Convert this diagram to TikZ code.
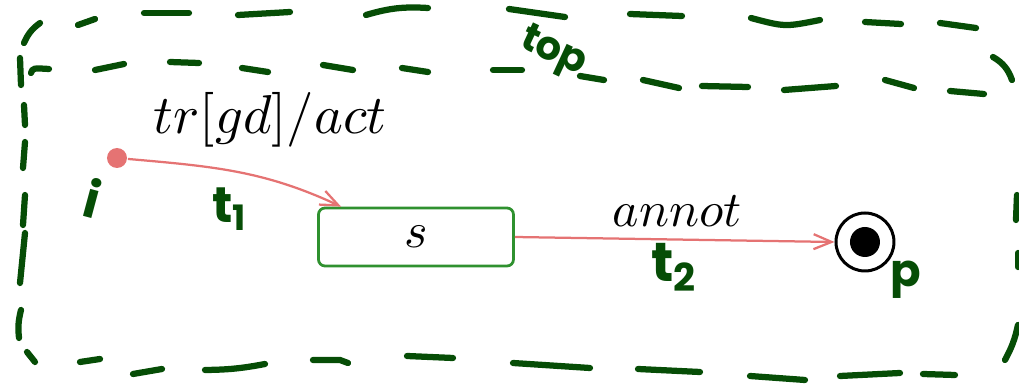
\documentclass[tikz,border=0pt]{standalone}
\usepackage{fontspec}
\usetikzlibrary{arrows.meta}
\newfontfamily\handfont{Poppins}
\definecolor{hgreen}{HTML}{064D06}
\definecolor{trred}{HTML}{E57373}
\definecolor{boxgreen}{HTML}{2F912F}
\tikzset{
  hd/.style={draw=hgreen, line width=1.25pt, line cap=round},
  hlabel/.style={text=hgreen, font=\handfont\bfseries\fontsize{10}{10}\selectfont, inner sep=0pt},
  trans/.style={draw=trred, line width=0.45pt, -{Straight Barb[length=3.6pt,width=3pt]}},
  lbl/.style={font=\fontsize{10.3}{12}\selectfont, inner sep=0pt},
  statebox/.style={draw=boxgreen, line width=0.55pt, rounded corners=1.3pt, minimum width=39pt, minimum height=11.6pt, inner sep=0pt, font=\fontsize{10.3}{12}\selectfont},
}
\begin{document}
\begin{tikzpicture}[x=0.2pt,y=-0.2pt]
\useasboundingbox (0,0) rectangle (1019,386);
% handwritten dashed region: top row
\draw[hd] (24,43) to[bend left=15] (40,23);
\draw[hd] (78,25) -- (95,19);
\draw[hd] (144,13) -- (189,13);
\draw[hd] (238,15) -- (290,12);
\draw[hd] (366,15) to[bend left=10] (428,8);
\draw[hd] (509,9) -- (565,17);
\draw[hd] (630,14) -- (682,16);
\draw[hd] (751,18) .. controls (785,27) .. (820,20);
\draw[hd] (865,22) -- (901,24);
\draw[hd] (940,23) -- (976,28);
\draw[hd] (993,57) to[bend left=20] (1012,80);
% second row
\draw[hd] (21,85) -- (20,58);
\draw[hd] (31,73) .. controls (33,68) .. (49,69);
\draw[hd] (95,70) -- (124,64);
\draw[hd] (170,62) -- (199,63);
\draw[hd] (242,68) -- (268,72);
\draw[hd] (323,65) -- (353,70);
\draw[hd] (402,68) -- (428,72);
\draw[hd] (493,70) -- (522,70);
\draw[hd] (580,76) -- (604,80);
\draw[hd] (643,80) -- (679,88);
\draw[hd] (702,86) -- (748,87);
\draw[hd] (784,90) -- (836,86);
\draw[hd] (885,80) -- (914,88);
\draw[hd] (950,91) -- (984,94);
% left side
\draw[hd] (24,105) -- (25,125);
\draw[hd] (25,142) -- (23,168);
\draw[hd] (25,195) -- (23,225);
\draw[hd] (25,233) -- (20,283);
\draw[hd] (21,310) to[bend right=10] (19,338);
\draw[hd] (27,352) -- (35,362);
% bottom
\draw[hd] (80,362) -- (100,359);
\draw[hd] (133,374) -- (162,369);
\draw[hd] (205,370) to[bend right=5] (265,364);
\draw[hd] (313,360) -- (340,360) -- (348,363);
\draw[hd] (407,356) -- (453,358);
\draw[hd] (513,363) -- (590,368);
\draw[hd] (638,369) -- (700,372);
\draw[hd] (750,376) -- (805,380);
\draw[hd] (840,376) -- (900,373);
\draw[hd] (923,374) -- (955,375);
% right side
\draw[hd] (1005,360) to[bend right=8] (1018,325);
\draw[hd] (1016,220) -- (1017,195);
\draw[hd] (1018,253) -- (1018,267);
% handwritten labels
\node[hlabel, rotate=-25, font=\handfont\bfseries\fontsize{8}{8}\selectfont] (top) at (553,53) {top};
\node[hlabel, rotate=-15] (ilab) at (93,198) {i};
\node[hlabel] (t1) at (230,209) {t\textsubscript{1}};
\node[hlabel, font=\handfont\bfseries\fontsize{11}{11}\selectfont] (t2) at (675,267) {t\textsubscript{2}};
\node[hlabel, font=\handfont\bfseries\fontsize{9}{9}\selectfont] (plab) at (906,280) {p};
% state machine
\node[circle, fill=trred, inner sep=0pt, minimum size=4pt] (init) at (117,158) {};
\node[statebox] (s) at (416,237) {$s$};
\node[circle, draw=black, line width=0.6pt, minimum size=11.6pt, inner sep=0pt] (final) at (865,242) {};
\node[circle, fill=black, inner sep=0pt, minimum size=6pt] (finalin) at (final.center) {};
\draw[trans] (init) to[out=-5,in=155] ([xshift=4.8pt]s.north west);
\draw[trans] (s.east) -- (final.west);
\node[lbl, anchor=base west, font=\fontsize{10.9}{12}\selectfont] (l1) at (153,133) {$tr[gd]/act$};
\node[lbl, anchor=base west] (l2) at (612,227) {$annot$};
\end{tikzpicture}
\end{document}
